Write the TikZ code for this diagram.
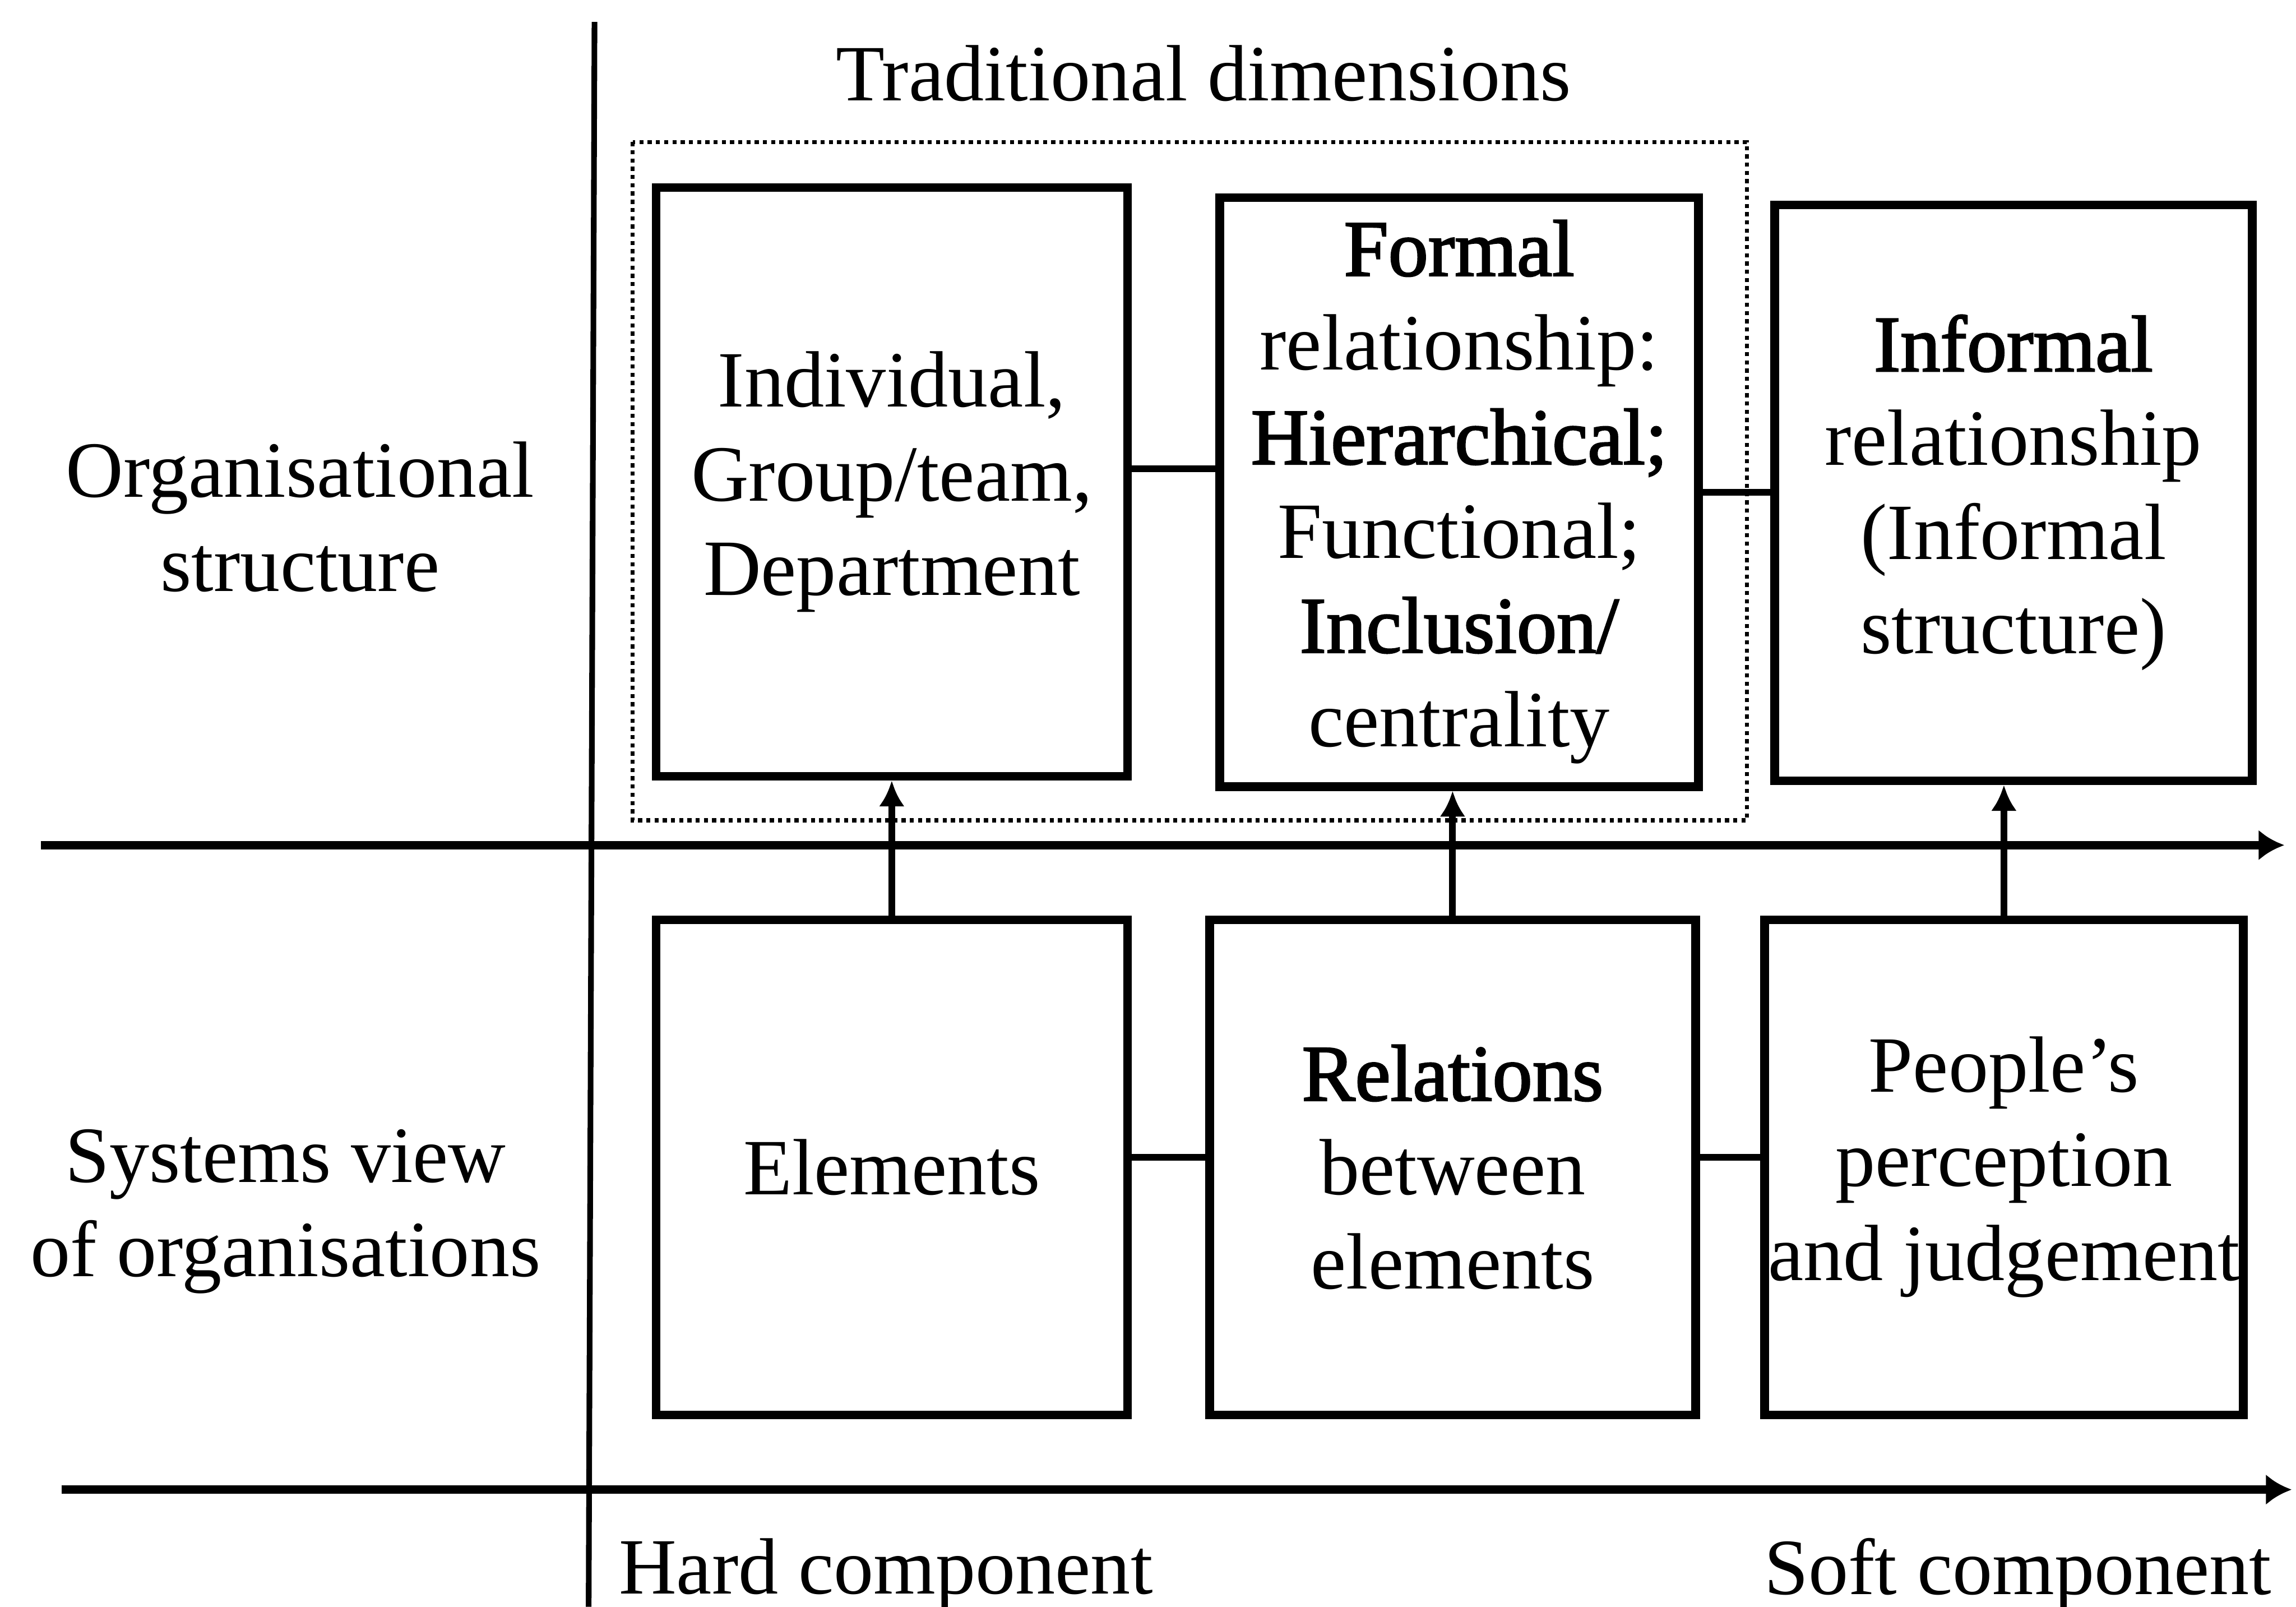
\documentclass[tikz,border=0pt]{standalone}
\usepackage{fontspec}
\setmainfont{Liberation Serif}[BoldFont=Liberation Serif, BoldFeatures={FakeBold=2}]
\usetikzlibrary{arrows.meta}
\begin{document}
\begin{tikzpicture}[
  txt/.style={font=\fontsize{15.5}{18.3}\selectfont, align=center, inner sep=0pt},
  box/.style={txt, draw=black, line width=1.7pt, anchor=center},
  axis/.style={line width=1.6pt, -{Latex[length=5pt,width=6pt]}},
  link/.style={line width=1.3pt},
  uparrow/.style={line width=1.3pt, -{Latex[length=5pt,width=5pt]}},
  frame/.style={line width=0.8pt, dash pattern=on 0.8pt off 0.8pt}
]
\useasboundingbox (0,0) rectangle (15.68,10.97);

% axes
\coordinate (vtop) at (4.06,10.82);
\coordinate (vbot) at (4.02,0);
\coordinate (hAleft) at (0.28,5.20);
\coordinate (hAright) at (15.60,5.20);
\coordinate (hBleft) at (0.42,0.80);
\coordinate (hBright) at (15.65,0.80);
\draw[line width=1.1pt] (vtop) -- (vbot);
\draw[axis] (hAleft) -- (hAright);
\draw[axis] (hBleft) -- (hBright);

% dotted frame around the traditional dimensions
\draw[frame] (4.32,10.00) rectangle (11.93,5.37);
\node[txt] (trad) at (8.22,10.47) {Traditional dimensions};

% row labels
\node[txt] (orgs) at (2.05,7.44) {Organisational\\structure};
\node[txt] (sysv) at (1.95,2.70) {Systems view\\of organisations};

% column labels
\node[txt, anchor=west] (hard) at (4.22,0.22) {Hard component};
\node[txt, anchor=east] (soft) at (15.52,0.22) {Soft component};

% upper row
\node[box, minimum width=3.22cm, minimum height=4.02cm] (indiv) at (6.09,7.68)
  {Individual,\\Group/team,\\Department};
\node[box, minimum width=3.27cm, minimum height=4.02cm] (formal) at (9.965,7.61)
  {\textbf{Formal}\\relationship:\\\textbf{Hierarchical;}\\Functional;\\\textbf{Inclusion/}\\centrality};
\node[box, minimum width=3.26cm, minimum height=3.93cm] (informal) at (13.75,7.605)
  {\textbf{Informal}\\relationship\\(Informal\\structure)};

% lower row
\node[box, minimum width=3.22cm, minimum height=3.38cm] (elem) at (6.09,3.00)
  {Elements};
\node[box, minimum width=3.32cm, minimum height=3.38cm] (rel) at (9.92,3.00)
  {\textbf{Relations}\\between\\elements};
\node[box, minimum width=3.27cm, minimum height=3.38cm] (people) at (13.685,3.00)
  {People's\\perception\\and judgement};

% horizontal links
\draw[link] ([yshift=0.09cm]indiv.east) -- ([yshift=0.09cm]indiv.east -| formal.west);
\draw[link] (formal.east) -- (formal.east -| informal.west);
\draw[link] ([yshift=0.07cm]elem.east) -- ([yshift=0.07cm]elem.east -| rel.west);
\draw[link] ([yshift=0.07cm]rel.east) -- ([yshift=0.07cm]rel.east -| people.west);

% upward arrows
\draw[uparrow] (elem.north) -- (elem.north |- indiv.south);
\draw[uparrow] (rel.north) -- (rel.north |- formal.south);
\draw[uparrow] (people.north) -- (people.north |- informal.south);
\end{tikzpicture}
\end{document}
